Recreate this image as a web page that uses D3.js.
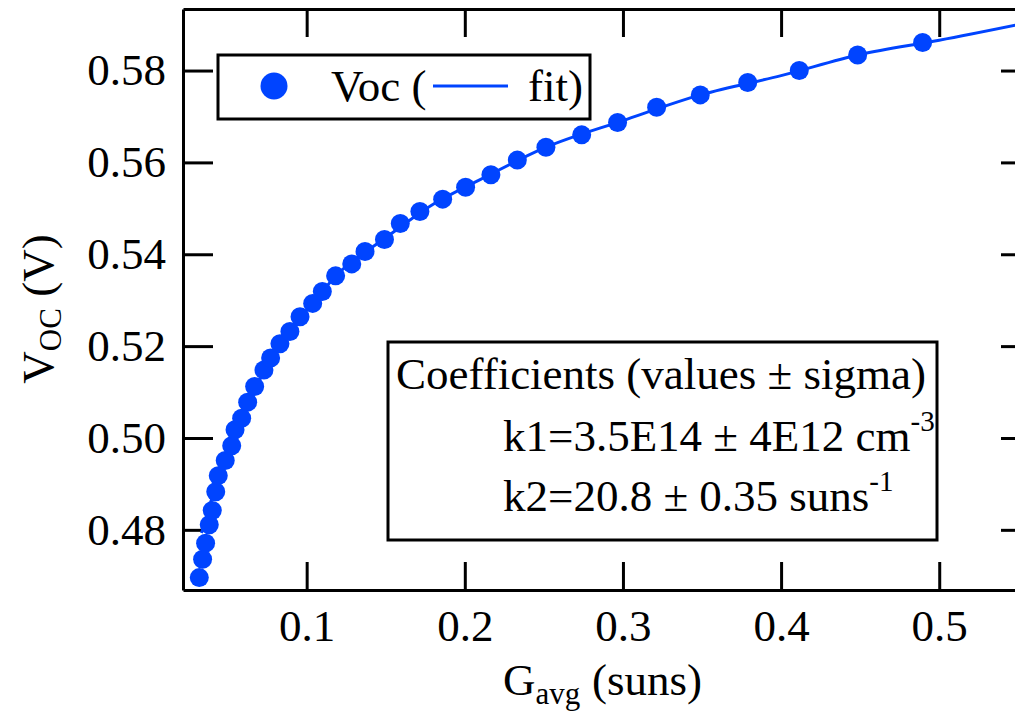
<!DOCTYPE html>
<html>
<head>
<meta charset="utf-8">
<script src="https://cdn.jsdelivr.net/npm/d3@7/dist/d3.min.js"></script>
<style>
  html, body { margin: 0; padding: 0; background: #fff; }
</style>
</head>
<body>
<div id="chart"></div>
<script>
'use strict';

var gavg = [0.0321, 0.0342, 0.0361, 0.0384, 0.0403, 0.0425, 0.0441, 0.0485, 0.0526, 0.0547,
            0.0589, 0.0627, 0.0671, 0.0730, 0.0772, 0.0831, 0.0894, 0.0958, 0.1038, 0.1099,
            0.1183, 0.1285, 0.1369, 0.1492, 0.1592, 0.1716, 0.1860, 0.2005, 0.2165, 0.2332,
            0.2513, 0.2739, 0.2966, 0.3213, 0.3489, 0.3789, 0.4115, 0.4484, 0.4895];
var voc = [0.4696, 0.4736, 0.4771, 0.4811, 0.4842, 0.4883, 0.4918, 0.4951, 0.4983, 0.5018,
           0.5043, 0.5078, 0.5112, 0.5148, 0.5174, 0.5205, 0.5232, 0.5264, 0.5293, 0.5319,
           0.5353, 0.5379, 0.5406, 0.5432, 0.5467, 0.5493, 0.5520, 0.5546, 0.5573, 0.5605,
           0.5633, 0.5660, 0.5687, 0.5720, 0.5747, 0.5774, 0.5800, 0.5834, 0.5861];

// fit curve, also
var fitG = [0.0335, 0.038, 0.044, 0.050, 0.060, 0.070, 0.085, 0.10, 0.12, 0.15,
            0.18, 0.21, 0.25, 0.30, 0.35, 0.40, 0.45, 0.50, 0.557];
var fitV = [0.4793, 0.4845, 0.4912, 0.4962, 0.5050, 0.5125, 0.5215, 0.5278, 0.5358, 0.5436,
            0.5509, 0.5563, 0.5631, 0.5691, 0.5748, 0.5789, 0.5835, 0.5866, 0.5905];

var xTicks = [0.1, 0.2, 0.3, 0.4, 0.5];
var yTicks = [0.48, 0.50, 0.52, 0.54, 0.56, 0.58];

var width = 1015, height = 713;
var blue = "#0044ff";
var font = '"Liberation Serif", "Times New Roman", Times, serif';
var fs = 45;

var x = d3.scaleLinear().domain([0.0218, 0.5574]).range([183, 1030]);
var y = d3.scaleLinear().domain([0.4669, 0.5934]).range([590, 9]);

var svg = d3.select("#chart").append("svg")
    .attr("width", width)
    .attr("height", height)
    .attr("viewBox", "0 0 " + width + " " + height)
    .attr("font-family", font);

svg.append("clipPath").attr("id", "plotclip")
  .append("rect")
    .attr("x", 183).attr("y", 9)
    .attr("width", 1030 - 183).attr("height", 590 - 9);

function styleAxis(g) {
    g.attr("font-family", font).attr("font-size", fs);
    g.selectAll("path.domain").attr("stroke", "#000").attr("stroke-width", 3);
    g.selectAll(".tick line").attr("stroke", "#000").attr("stroke-width", 3);
    g.selectAll(".tick text").attr("fill", "#000");
}

svg.append("g")
    .attr("transform", "translate(183,0)")
    .call(d3.axisLeft(y).tickValues(yTicks).tickSize(-30).tickSizeOuter(0)
        .tickPadding(17).tickFormat(d3.format(".2f")))
    .call(styleAxis);

svg.append("g")
    .attr("transform", "translate(0,590)")
    .call(d3.axisBottom(x).tickValues(xTicks).tickSize(-28).tickSizeOuter(0)
        .tickPadding(19).tickFormat(d3.format(".1f")))
    .call(styleAxis);

svg.append("g")
    .attr("transform", "translate(0,9)")
    .call(d3.axisTop(x).tickValues(xTicks).tickSize(-28).tickSizeOuter(0).tickFormat(""))
    .call(styleAxis);

svg.append("g")
    .attr("transform", "translate(1030,0)")
    .call(d3.axisRight(y).tickValues(yTicks).tickSize(-29).tickSizeOuter(0).tickFormat(""))
    .call(styleAxis);

// axis titles
var yt = svg.append("text")
    .attr("transform", "translate(53,309) rotate(-90)")
    .attr("text-anchor", "middle")
    .attr("font-size", fs);
yt.append("tspan").text("V");
yt.append("tspan").attr("dy", 8).attr("font-size", 31).text("OC");
yt.append("tspan").attr("dy", -8).text(" (V)");

var xt = svg.append("text")
    .attr("x", 503).attr("y", 695)
    .attr("font-size", fs);
xt.append("tspan").text("G");
xt.append("tspan").attr("dy", 9).attr("font-size", 31).text("avg");
xt.append("tspan").attr("dy", -9).attr("x", 592).text("(suns)");

// fit line
var pts = fitG.map(function (g, i) { return [g, fitV[i]]; });
svg.append("path")
    .datum(pts)
    .attr("clip-path", "url(#plotclip)")
    .attr("fill", "none")
    .attr("stroke", blue)
    .attr("stroke-width", 3)
    .attr("d", d3.line()
        .x(function (d) { return x(d[0]); })
        .y(function (d) { return y(d[1]); })
        .curve(d3.curveMonotoneX));

// data markers
svg.append("g")
  .selectAll("circle")
  .data(gavg)
  .enter()
  .append("circle")
    .attr("cx", function (d) { return x(d); })
    .attr("cy", function (d, i) { return y(voc[i]); })
    .attr("r", 9.5)
    .attr("fill", blue);

// legend
var leg = svg.append("g");
leg.append("rect")
    .attr("x", 218).attr("y", 55).attr("width", 372).attr("height", 64)
    .attr("fill", "#fff").attr("stroke", "#000").attr("stroke-width", 3);
leg.append("circle").attr("cx", 274).attr("cy", 86).attr("r", 13.5).attr("fill", blue);
leg.append("text").attr("x", 331).attr("y", 101).attr("font-size", fs).text("Voc (");
leg.append("line").attr("x1", 433).attr("x2", 508).attr("y1", 86).attr("y2", 86)
    .attr("stroke", blue).attr("stroke-width", 3);
leg.append("text").attr("x", 528).attr("y", 101).attr("font-size", fs).text("fit)");

// coefficients box
var cb = svg.append("g");
cb.append("rect")
    .attr("x", 388).attr("y", 342).attr("width", 549).attr("height", 198)
    .attr("fill", "#fff").attr("stroke", "#000").attr("stroke-width", 3);
cb.append("text").attr("x", 396).attr("y", 389).attr("font-size", fs)
    .text("Coefficients (values \u00b1 sigma)");
var k1 = cb.append("text").attr("x", 503).attr("y", 451).attr("font-size", fs);
k1.append("tspan").text("k1=3.5E14 \u00b1 4E12 cm");
k1.append("tspan").attr("dy", -20).attr("font-size", 29).text("-3");
var k2 = cb.append("text").attr("x", 503).attr("y", 511).attr("font-size", fs);
k2.append("tspan").text("k2=20.8 \u00b1 0.35 suns");
k2.append("tspan").attr("dy", -20).attr("font-size", 29).text("-1");
</script>
</body>
</html>
